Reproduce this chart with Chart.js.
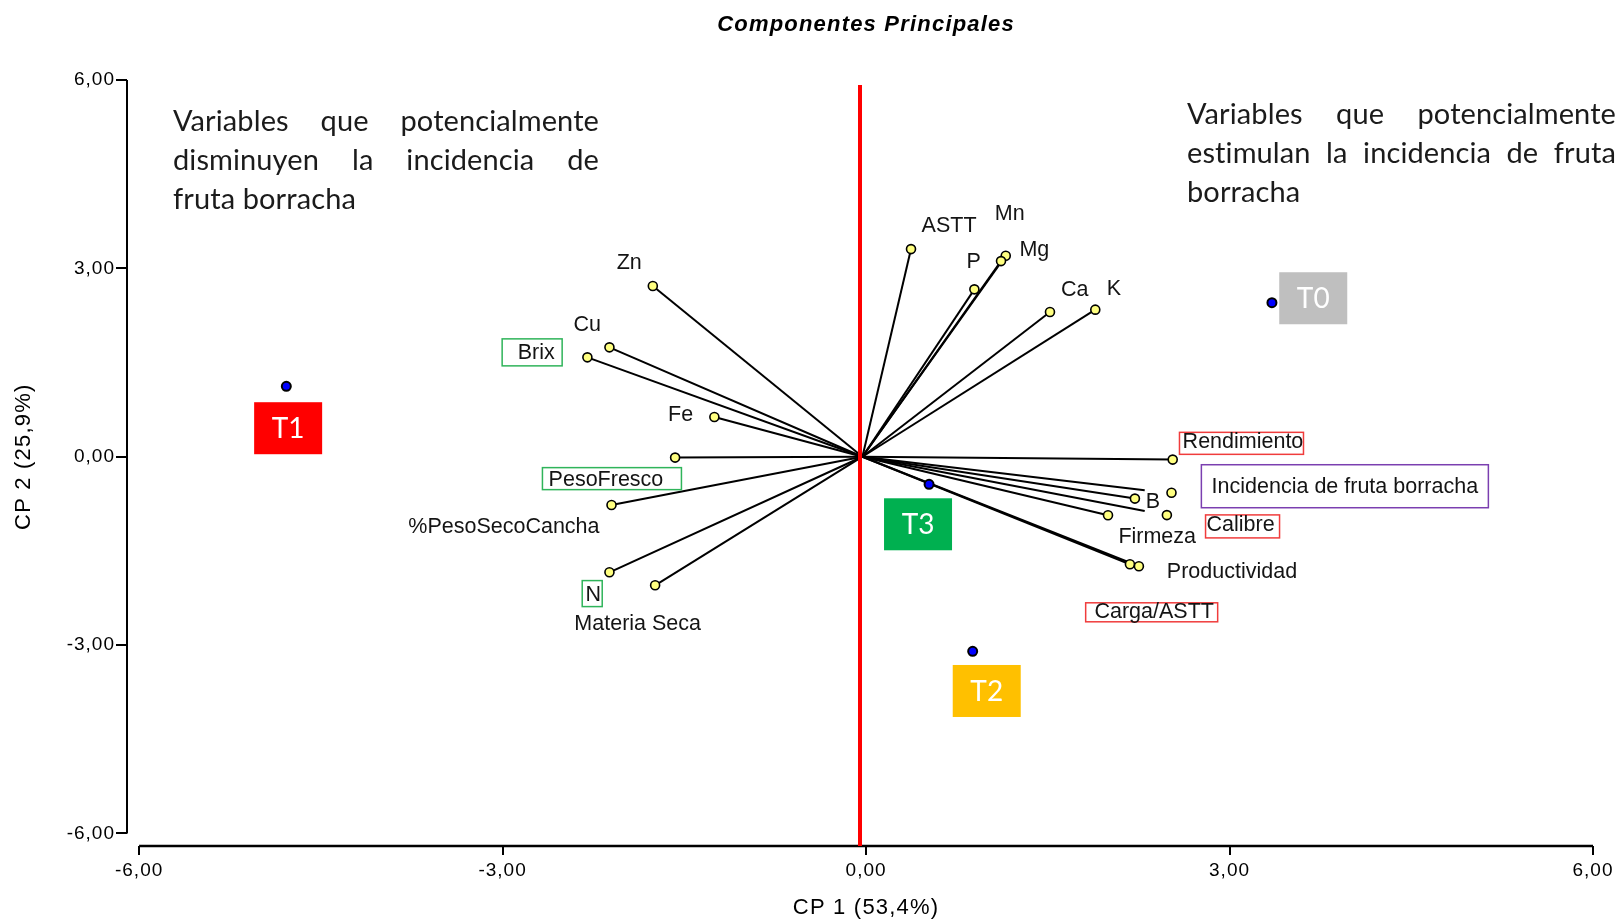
<!DOCTYPE html>
<html lang="es">
<head>
<meta charset="utf-8">
<title>Componentes Principales</title>
<script src="https://cdn.jsdelivr.net/npm/chart.js@4.4.1/dist/chart.umd.min.js"></script>
<style>
  html, body { margin: 0; padding: 0; background: #fff; }
  canvas { display: block; }
</style>
</head>
<body>
<canvas id="biplot" width="1621" height="922"></canvas>
<script>
// axes
const X_TICKS = [-6, -3, 0, 3, 6];
const X_TICK_LABELS = ["-6,00", "-3,00", "0,00", "3,00", "6,00"];
const Y_TICKS = [-6, -3, 0, 3, 6];
const Y_TICK_LABELS = ["-6,00", "-3,00", "0,00", "3,00", "6,00"];

// vectors start here (a hair left of 0 in the picture)
const ORIGIN = [-0.03, 0];
const RED_LINE_X = -0.05;
const RED_LINE_TOP = 5.92;

// variables (end points of the vectors)
const varNames = ["Zn", "Cu", "Brix", "Fe", "PesoFresco", "%PesoSecoCancha", "N", "Materia Seca",
  "ASTT", "Mn", "Mg", "P", "Ca", "K",
  "Rendimiento", "Incidencia de fruta borracha", "B", "Calibre", "Firmeza", "Productividad", "Carga/ASTT"];
const varX = [-1.760, -2.118, -2.300, -1.252, -1.576, -2.101, -2.118, -1.741,
  0.371, 1.153, 1.114, 0.894, 1.518, 1.892,
  2.531, 2.521, 2.219, 2.483, 1.997, 2.178, 2.252];
const varY = [2.718, 1.742, 1.583, 0.632, -0.014, -0.769, -1.841, -2.048,
  3.307, 3.202, 3.116, 2.666, 2.304, 2.342,
  -0.046, -0.573, -0.667, -0.930, -0.933, -1.713, -1.745];
// two drawn lines stop short of their marker in the original
const looseLineEnds = {
  "Incidencia de fruta borracha": [2.300, -0.535],
  "Calibre": [2.300, -0.865]
};

// treatments
const trtNames = ["T0", "T1", "T2", "T3"];
const trtX = [3.350, -4.785, 0.880, 0.520];
const trtY = [2.454, 1.121, -3.099, -0.439];

// ---- label placement (data coords of the text centre) ----
const GREEN = "#2fb45a", RED = "#f03c3c", PURPLE = "#7b3fb0";
const varLabels = [
  // text, x, y, box colour, box w, box h, box dx, box dy
  ["Zn", -1.955, 3.100],
  ["Cu", -2.302, 2.119],
  ["Brix", -2.723, 1.662, GREEN, 60, 27, -4, 0],
  ["Fe", -1.531, 0.675],
  ["PesoFresco", -2.147, -0.349, GREEN, 139, 22, 6, 0],
  ["%PesoSecoCancha", -2.989, -1.108],
  ["N", -2.252, -2.180, GREEN, 20, 26, -1, 0],
  ["Materia Seca", -1.885, -2.642],
  ["ASTT", 0.685, 3.696],
  ["Mn", 1.186, 3.881],
  ["Mg", 1.389, 3.307],
  ["P", 0.889, 3.116],
  ["Ca", 1.723, 2.677],
  ["K", 2.045, 2.693],
  ["Rendimiento", 3.111, 0.245, RED, 124, 22, -1.5, 2],
  ["Incidencia de fruta borracha", 3.952, -0.470, PURPLE, 287, 43, 0, 0],
  ["B", 2.368, -0.699],
  ["Calibre", 3.091, -1.078, RED, 74, 23, 2, 2],
  ["Firmeza", 2.403, -1.260],
  ["Productividad", 3.020, -1.820],
  ["Carga/ASTT", 2.378, -2.462, RED, 132, 19, -2.5, 1]
];
const trtTagX = [3.691, -4.770, 0.996, 0.429];
const trtTagY = [2.524, 0.454, -3.731, -1.076];
const trtTagColors = ["#bfbfbf", "#ff0000", "#ffc000", "#00b050"];

const leftNote = [
  { text: "Variables que potencialmente", justify: true },
  { text: "disminuyen la incidencia de", justify: true },
  { text: "fruta borracha", justify: false }
];
const rightNote = [
  { text: "Variables que potencialmente", justify: true },
  { text: "estimulan la incidencia de fruta", justify: true },
  { text: "borracha", justify: false }
];

const SANS = '"Liberation Sans", Arial, sans-serif';
const CALIBRI_LIKE = 'Lato, "Open Sans", sans-serif';

function vectorDatasets() {
  return varNames.map((name, i) => {
    const end = looseLineEnds[name] || [varX[i], varY[i]];
    return {
      label: name,
      data: [{ x: ORIGIN[0], y: ORIGIN[1] }, { x: end[0], y: end[1] }],
      showLine: true,
      borderColor: "#000",
      borderWidth: 2,
      pointRadius: 0,
      order: 3
    };
  });
}

function drawJustified(ctx, lines, left, right, firstBaseline, lineGap) {
  lines.forEach((line, i) => {
    const y = firstBaseline + i * lineGap;
    const words = line.text.split(" ");
    if (!line.justify || words.length < 2) {
      ctx.fillText(line.text, left, y);
      return;
    }
    const widths = words.map(w => ctx.measureText(w).width);
    const total = widths.reduce((a, b) => a + b, 0);
    const gap = (right - left - total) / (words.length - 1);
    let cx = left;
    words.forEach((w, k) => {
      ctx.fillText(w, cx, y);
      cx += widths[k] + gap;
    });
  });
}

const decorPlugin = {
  id: "decor",
  beforeDraw(chart) {
    chart.ctx.letterSpacing = "1px";
  },
  beforeDatasetsDraw(chart) {
    const { ctx, chartArea, scales } = chart;
    ctx.letterSpacing = "0px";
    // axis lines, only between -6 and 6 like the original
    ctx.save();
    ctx.strokeStyle = "#000";
    ctx.lineWidth = 2;
    ctx.beginPath();
    ctx.moveTo(chartArea.left, scales.y.getPixelForValue(6));
    ctx.lineTo(chartArea.left, scales.y.getPixelForValue(-6));
    ctx.stroke();
    ctx.lineWidth = 2.5;
    ctx.beginPath();
    ctx.moveTo(scales.x.getPixelForValue(-6), chartArea.bottom);
    ctx.lineTo(scales.x.getPixelForValue(6), chartArea.bottom);
    ctx.stroke();
    ctx.restore();
  },
  afterDraw(chart) {
    const { ctx, scales } = chart;
    const X = v => scales.x.getPixelForValue(v);
    const Y = v => scales.y.getPixelForValue(v);
    ctx.save();

    // title
    ctx.fillStyle = "#000";
    ctx.textAlign = "center";
    ctx.textBaseline = "alphabetic";
    ctx.letterSpacing = "1.2px";
    ctx.font = "italic bold 22px " + SANS;
    ctx.fillText("Componentes Principales", X(0), 31);

    // axis titles
    ctx.letterSpacing = "1.2px";
    ctx.font = "22px " + SANS;
    ctx.textBaseline = "middle";
    ctx.fillText("CP 1 (53,4%)", X(0), 908);
    ctx.save();
    ctx.translate(24, Y(0));
    ctx.rotate(-Math.PI / 2);
    ctx.fillText("CP 2 (25,9%)", 0, 0);
    ctx.restore();

    // explanatory notes (tiny spacing keeps the "ti" ligature off)
    ctx.letterSpacing = "0.1px";
    ctx.font = "29px " + CALIBRI_LIKE;
    ctx.textAlign = "left";
    ctx.textBaseline = "alphabetic";
    ctx.fillStyle = "#1b1b1b";
    drawJustified(ctx, leftNote, 173, 599, 131, 38.8);
    drawJustified(ctx, rightNote, 1187, 1616, 124, 38.8);
    ctx.letterSpacing = "0px";

    // variable labels
    ctx.font = "21.5px " + SANS;
    ctx.textAlign = "center";
    ctx.textBaseline = "middle";
    varLabels.forEach(([text, lx, ly, box, bw, bh, bdx, bdy]) => {
      const cx = X(lx), cy = Y(ly);
      if (box) {
        ctx.strokeStyle = box;
        ctx.lineWidth = 1.5;
        ctx.strokeRect(cx + bdx - bw / 2, cy + bdy - bh / 2, bw, bh);
      }
      ctx.fillStyle = "#141414";
      ctx.fillText(text, cx, cy + 1);
    });

    // treatment tags
    ctx.font = "28px " + CALIBRI_LIKE;
    trtNames.forEach((name, i) => {
      const cx = X(trtTagX[i]), cy = Y(trtTagY[i]);
      ctx.fillStyle = trtTagColors[i];
      ctx.fillRect(cx - 34, cy - 26, 68, 52);
      ctx.fillStyle = "#fff";
      ctx.fillText(name, cx, cy + 1);
    });

    ctx.restore();
  }
};

const datasets = [
  {
    label: "variables",
    data: varNames.map((_, i) => ({ x: varX[i], y: varY[i] })),
    pointRadius: 4.5,
    pointBackgroundColor: "#ffff80",
    pointBorderColor: "#000",
    pointBorderWidth: 1.6,
    order: 0
  },
  {
    label: "tratamientos",
    data: trtNames.map((_, i) => ({ x: trtX[i], y: trtY[i] })),
    pointRadius: 4.5,
    pointBackgroundColor: "#0000ff",
    pointBorderColor: "#000",
    pointBorderWidth: 2,
    order: 0
  },
  {
    label: "eje",
    data: [{ x: RED_LINE_X, y: RED_LINE_TOP }, { x: RED_LINE_X, y: -6.2 }],
    showLine: true,
    borderColor: "#ff0000",
    borderWidth: 4,
    pointRadius: 0,
    order: 1
  },
  ...vectorDatasets()
];

new Chart(document.getElementById("biplot"), {
  type: "scatter",
  data: { datasets },
  options: {
    responsive: false,
    animation: false,
    devicePixelRatio: 1,
    layout: { padding: { left: 0, right: 28, top: 80, bottom: 0 } },
    plugins: {
      legend: { display: false },
      tooltip: { enabled: false },
      title: { display: false }
    },
    scales: {
      x: {
        type: "linear",
        min: -6.1,
        max: 6,
        afterBuildTicks: scale => { scale.ticks = X_TICKS.map(v => ({ value: v })); },
        afterFit: scale => { scale.height = 76; scale.paddingLeft = 0; scale.paddingRight = 0; },
        border: { display: false },
        grid: { drawOnChartArea: false, drawTicks: true, tickLength: 9, color: "#000", lineWidth: 2 },
        ticks: {
          callback: (value, index) => X_TICK_LABELS[index],
          font: { family: SANS, size: 19 },
          color: "#000",
          padding: 4,
          maxRotation: 0,
          autoSkip: false
        }
      },
      y: {
        type: "linear",
        min: -6.2,
        max: 6,
        afterBuildTicks: scale => { scale.ticks = Y_TICKS.map(v => ({ value: v })); },
        afterFit: scale => { scale.width = 127; scale.paddingTop = 0; scale.paddingBottom = 0; },
        border: { display: false },
        grid: { drawOnChartArea: false, drawTicks: true, tickLength: 11, color: "#000", lineWidth: 2 },
        ticks: {
          callback: (value, index) => Y_TICK_LABELS[index],
          font: { family: SANS, size: 19 },
          color: "#000",
          padding: 1,
          autoSkip: false
        }
      }
    }
  },
  plugins: [decorPlugin]
});
</script>
</body>
</html>
